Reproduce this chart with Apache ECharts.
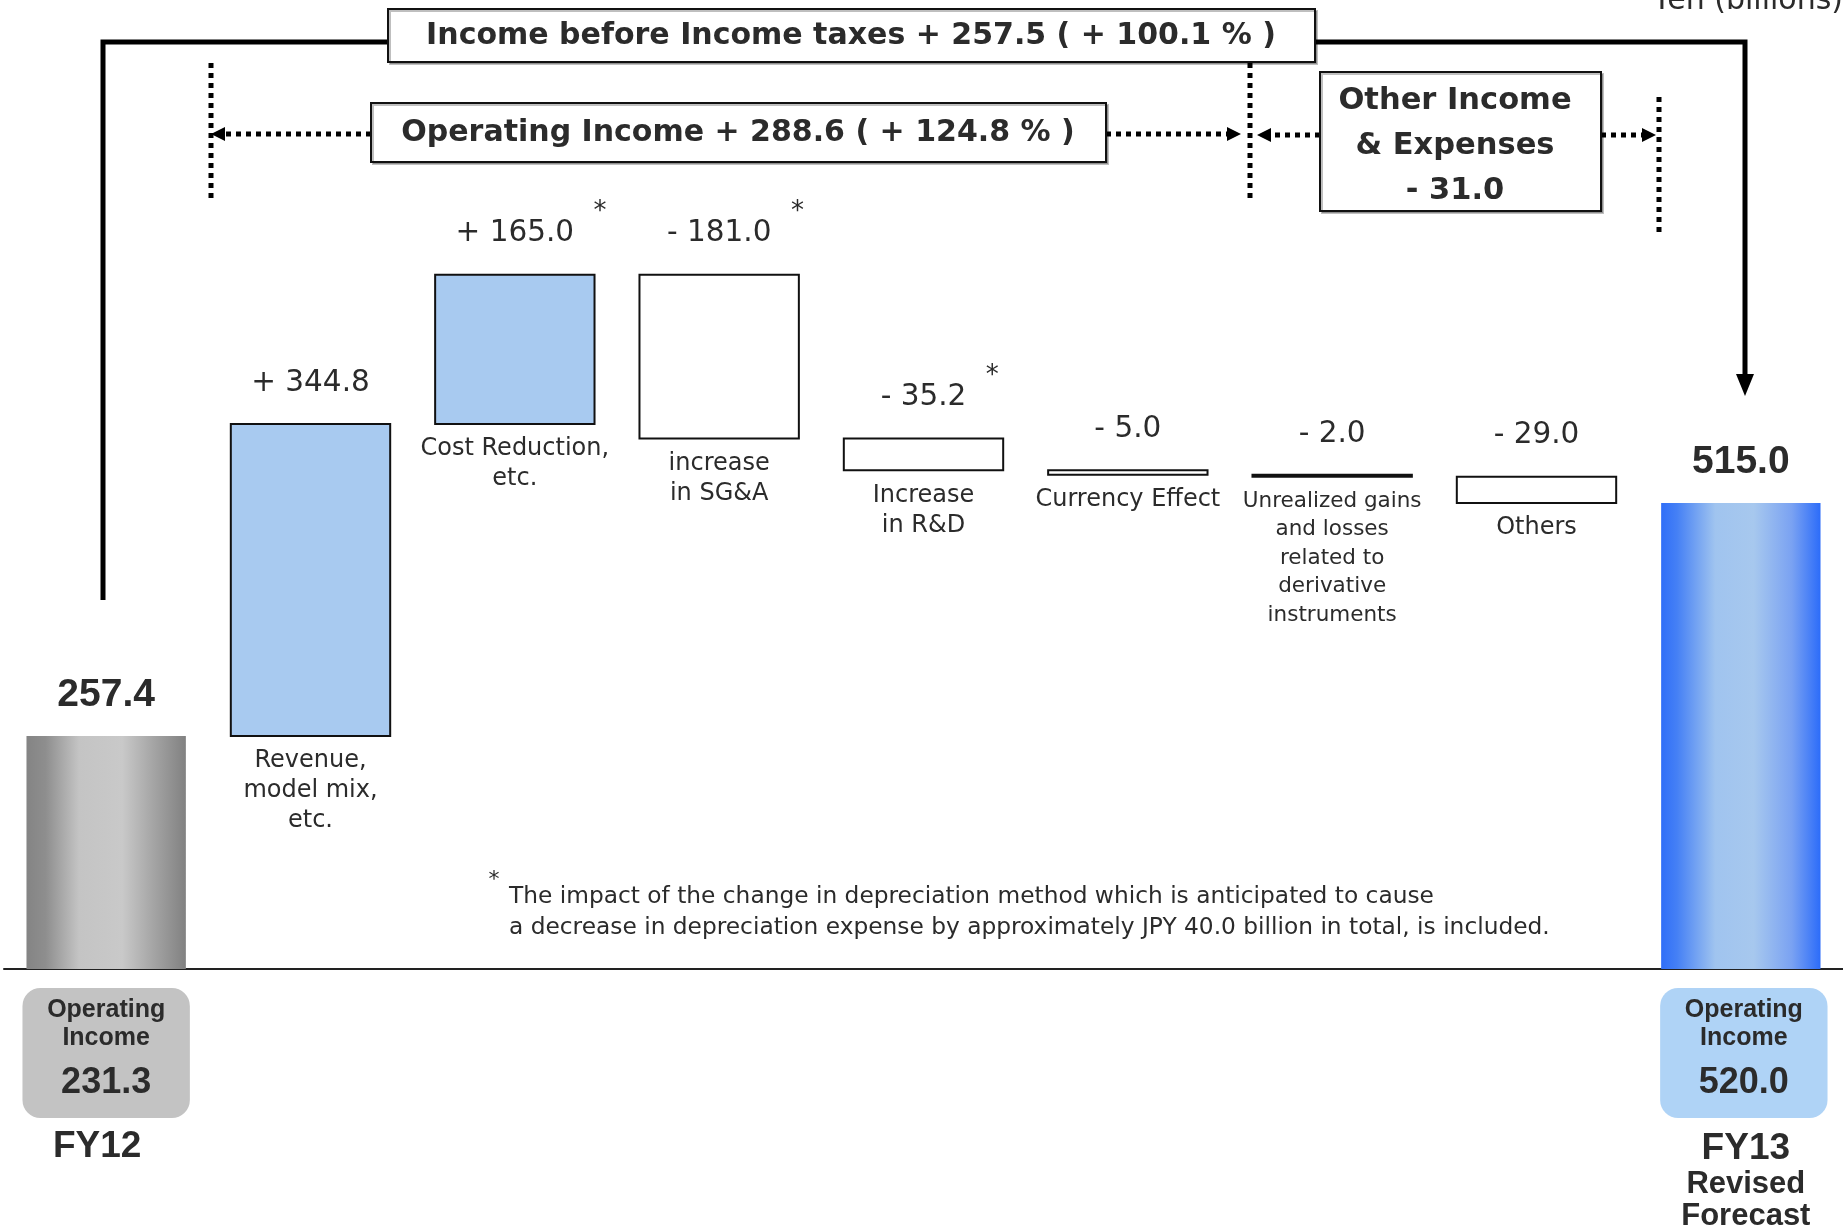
<!DOCTYPE html>
<html>
<head>
<meta charset="utf-8">
<script src="https://cdn.jsdelivr.net/npm/echarts@6/dist/echarts.min.js"></script>
<style>
html,body{margin:0;padding:0;background:#fff;}
#chart{width:1843px;height:1227px;}
</style>
</head>
<body>
<div id="chart"></div>
<script>
// ---------- data ----------
const categories = [
  'FY12',
  'Revenue,\nmodel mix,\netc.',
  'Cost Reduction,\netc.',
  'increase\nin SG&A',
  'Increase\nin R&D',
  'Currency Effect',
  'Unrealized gains\nand losses\nrelated to\nderivative\ninstruments',
  'Others',
  'FY13\nRevised\nForecast'
];
const changes = [257.4, 344.8, 165.0, -181.0, -35.2, -5.0, -2.0, -29.0, 515.0];
const barKinds = ['total', 'up', 'up', 'down', 'down', 'down', 'down', 'down', 'total'];
const valueLabels = ['257.4', '+ 344.8', '+ 165.0', '- 181.0', '- 35.2', '- 5.0', '- 2.0', '- 29.0', '515.0'];
const footnoteMarks = [false, false, true, true, true, false, false, false, false];
const operatingIncome = [231.3, null, null, null, null, null, null, null, 520.0];
const operatingIncomeTitle = 'Operating\nIncome';
const incomeBeforeTaxesText = 'Income before Income taxes + 257.5 ( + 100.1 % )';
const operatingIncomeChangeText = 'Operating Income + 288.6 ( + 124.8 % )';
const otherIncomeText = ['Other Income', '& Expenses', '- 31.0'];
const unitText = 'Yen (billions)';
const footnoteLines = [
  'The impact of the change in depreciation method which is anticipated to cause',
  'a decrease in depreciation expense by approximately JPY 40.0 billion in total, is included.'
];

// ---------- build waterfall ranges ----------
let running = 0;
const waterfall = categories.map(function (c, i) {
  let low, high;
  if (barKinds[i] === 'total') {
    low = 0; high = changes[i]; running = changes[i];
  } else {
    const next = running + changes[i];
    low = Math.min(running, next); high = Math.max(running, next);
    running = next;
  }
  return [i, low, high];
});

// ---------- styles ----------
const TXT = '#2b2b2b';
const WIDE = '"DejaVu Sans", "Liberation Sans", sans-serif';
const ARIAL = '"Liberation Sans", Arial, sans-serif';
const measureCtx = document.createElement('canvas').getContext('2d');
function textWidth(t, font) { measureCtx.font = font; return measureCtx.measureText(t).width; }

function gradient(stops) {
  return { type: 'linear', x: 0, y: 0, x2: 1, y2: 0, global: false,
    colorStops: stops.map(function (s) { return { offset: s[0], color: s[1] }; }) };
}
const greyFill = gradient([[0, '#848484'], [0.12, '#8e8e8e'], [0.33, '#c4c4c4'], [0.6, '#c9c9c9'], [0.8, '#a4a4a4'], [1, '#818181']]);
const blueFill = gradient([[0, '#2f6ef8'], [0.1, '#4580f5'], [0.34, '#a0c4ef'], [0.58, '#a7c8ee'], [0.82, '#7aa2f2'], [1, '#2c6cf9']]);

function txt(x, y, text, font, opts) {
  opts = opts || {};
  return {
    type: 'text', x: x, y: y, z2: 20,
    style: {
      text: text, font: font, fill: opts.fill || TXT,
      align: opts.align || 'center', verticalAlign: opts.va || 'middle',
      textAlign: opts.align || 'center', textVerticalAlign: opts.va || 'middle',
      lineHeight: opts.lh
    }
  };
}

function renderItem(params, api) {
  const i = api.value(0);
  const lowPt = api.coord([i, api.value(1)]);
  const highPt = api.coord([i, api.value(2)]);
  const base = api.coord([i, 0])[1];
  const band = api.size([1, 0])[0];
  const bw = band * 0.78;
  const cx = lowPt[0];
  const top = highPt[1], bottom = lowPt[1];
  const kind = barKinds[i];
  const children = [];
  let style;
  if (kind === 'total') style = { fill: i === 0 ? greyFill : blueFill };
  else if (kind === 'up') style = { fill: '#a8caf0', stroke: '#111', lineWidth: 2 };
  else style = { fill: '#ffffff', stroke: '#111', lineWidth: 2 };
  children.push({ type: 'rect', shape: { x: cx - bw / 2, y: top, width: bw, height: Math.max(bottom - top, 1) }, style: style });

  // value label
  const vFont = kind === 'total' ? 'bold 39px ' + ARIAL : '29.5px ' + WIDE;
  children.push(txt(cx, top - 41, valueLabels[i], vFont));
  if (footnoteMarks[i]) {
    const w = textWidth(valueLabels[i], vFont);
    children.push(txt(cx + w / 2 + 26, top - 62, '*', '26px ' + WIDE));
  }

  if (kind === 'total') {
    // operating income box below axis
    const shift = i === 0 ? 0 : 3;
    const bx = cx - bw / 2 - 4 + shift, by = base + 19;
    children.push({ type: 'rect', shape: { x: bx, y: by, width: bw + 8, height: 130, r: 18 },
      style: { fill: i === 0 ? '#c3c3c3' : '#afd3f6' } });
    children.push(txt(cx + shift, base + 55, operatingIncomeTitle, 'bold 25px ' + ARIAL, { lh: 28 }));
    children.push(txt(cx + shift, base + 114, operatingIncome[i].toFixed(1), 'bold 36px ' + ARIAL));
    const lines = categories[i].split('\n');
    const dx = i === 0 ? -9 : 5;
    children.push(txt(cx + dx, base + (lines.length > 1 ? 180 : 178), lines[0], 'bold 37px ' + ARIAL));
    for (let k = 1; k < lines.length; k++) {
      children.push(txt(cx + dx, base + 183 + 32 * k, lines[k], 'bold 31px ' + ARIAL));
    }
  } else {
    const nLines = categories[i].split('\n').length;
    const small = nLines > 3;
    children.push(txt(cx, bottom + 10, categories[i],
      (small ? '21.5px ' : '24px ') + WIDE, { va: 'top', lh: small ? 28.5 : 30 }));
  }
  return { type: 'group', children: children };
}

// ---------- annotations ----------
const black = '#000';
function dotted(points, lw) {
  return { type: 'polyline', z: 5, shape: { points: points },
    style: { stroke: black, lineWidth: lw || 5, lineDash: [5, 5], fill: null } };
}
function tri(points) {
  return { type: 'polygon', z: 6, shape: { points: points }, style: { fill: black } };
}
function box(x, y, w, h) {
  return { type: 'rect', z: 8, shape: { x: x, y: y, width: w, height: h },
    style: { fill: '#fff', stroke: '#111', lineWidth: 2, shadowColor: 'rgba(0,0,0,0.25)', shadowOffsetX: 2, shadowOffsetY: 2 } };
}
function gtext(x, y, text, font, align) {
  return { type: 'text', z: 10, x: x, y: y,
    style: { text: text, font: font, fill: TXT, textAlign: align || 'center', textVerticalAlign: 'middle',
      align: align || 'center', verticalAlign: 'middle' } };
}
const AY = 134;
const graphics = [
  // outer frame: Income before income taxes
  { type: 'polyline', z: 4, shape: { points: [[103, 600], [103, 42], [1745, 42], [1745, 378]] },
    style: { stroke: black, lineWidth: 5, fill: null, lineJoin: 'miter' } },
  tri([[1745, 396], [1736, 374], [1754, 374]]),
  box(388, 9, 927, 53),
  gtext(851, 36, incomeBeforeTaxesText, 'bold 30px ' + WIDE),
  // vertical dotted separators
  dotted([[211, 63], [211, 200]]),
  dotted([[1250, 63], [1250, 200]]),
  dotted([[1659, 97], [1659, 233]]),
  // operating income arrows
  dotted([[371, AY], [222, AY]]),
  tri([[211, AY], [225, AY - 7], [225, AY + 7]]),
  dotted([[1106, AY], [1229, AY]]),
  tri([[1241, AY], [1227, AY - 7], [1227, AY + 7]]),
  box(371, 103, 735, 59),
  gtext(738, 133, operatingIncomeChangeText, 'bold 30px ' + WIDE),
  // other income arrows
  dotted([[1320, AY + 1], [1270, AY + 1]]),
  tri([[1257, AY + 1], [1271, AY - 6], [1271, AY + 8]]),
  dotted([[1601, AY + 1], [1644, AY + 1]]),
  tri([[1656, AY + 1], [1642, AY - 6], [1642, AY + 8]]),
  box(1320, 72, 281, 139),
  gtext(1455, 101, otherIncomeText[0], 'bold 30.5px ' + WIDE),
  gtext(1455, 146, otherIncomeText[1], 'bold 30.5px ' + WIDE),
  gtext(1455, 191, otherIncomeText[2], 'bold 30.5px ' + WIDE),
  // unit
  { type: 'text', z: 10, x: 1843, y: 16,
    style: { text: unitText, font: '30px ' + WIDE, fill: TXT, textAlign: 'right', textVerticalAlign: 'bottom', align: 'right', verticalAlign: 'bottom' } },
  // footnote
  gtext(494, 880, '*', '22px ' + WIDE),
  { type: 'text', z: 10, x: 509, y: 881,
    style: { text: footnoteLines.join('\n'), font: '23.3px ' + WIDE, fill: TXT, lineHeight: 31,
      textAlign: 'left', textVerticalAlign: 'top', align: 'left', verticalAlign: 'top' } }
];

// ---------- chart ----------
const chart = echarts.init(document.getElementById('chart'), null, { renderer: 'canvas' });
chart.setOption({
  animation: false,
  backgroundColor: '#ffffff',
  grid: { left: 4, right: -5, top: 64, bottom: 258, containLabel: false },
  xAxis: {
    type: 'category', data: categories,
    axisLabel: { show: false }, axisTick: { show: false },
    axisLine: { show: true, lineStyle: { color: '#222', width: 2 } }
  },
  yAxis: { type: 'value', min: 0, max: 1000, show: false, splitLine: { show: false } },
  series: [{
    type: 'custom', renderItem: renderItem, data: waterfall,
    encode: { x: 0, y: [1, 2] }, clip: false, z: 2
  }],
  graphic: { elements: graphics }
});
</script>
</body>
</html>
